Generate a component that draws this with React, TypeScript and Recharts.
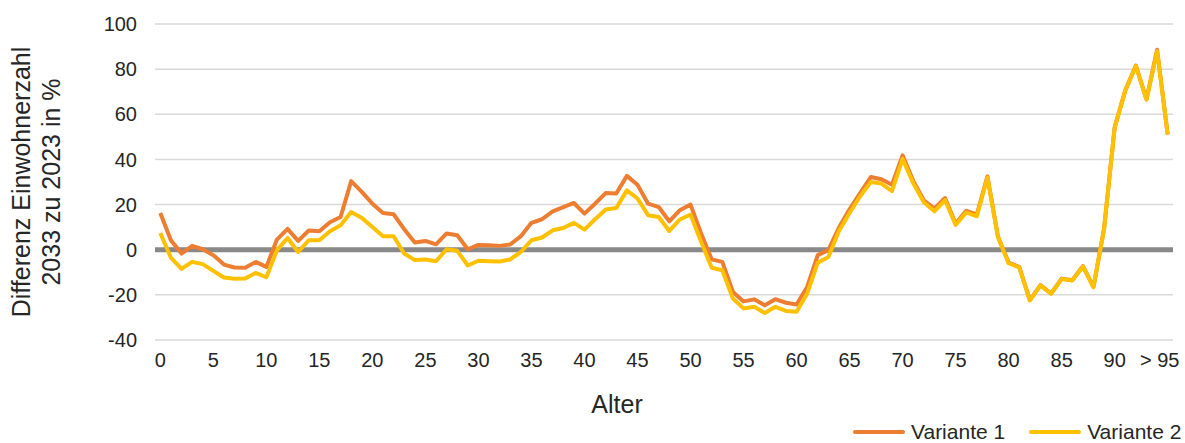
import { LineChart, Line, XAxis, YAxis, CartesianGrid, ReferenceLine } from 'recharts';

// Alter 0 … 95 (letzte Klasse "> 95")
const ages = Array.from({ length: 96 }, (_, i) => i);

const variante1 = [
  16.3, 4.2, -1.7, 1.7, 0.2, -2.4, -6.6, -7.9, -8, -5.4,
  -7.6, 4.5, 9.2, 3.9, 8.5, 8.2, 12.2, 14.5, 30.4, 25.6,
  20.4, 16.3, 15.7, 9.1, 3.2, 3.9, 2.4, 7.2, 6.4, 0.2,
  2.1, 2, 1.7, 2.3, 6, 11.9, 13.5, 17, 18.9, 20.7,
  16, 20.4, 25.1, 24.9, 32.7, 28.8, 20.4, 18.9, 12.6, 17.5,
  20, 7.2, -4.3, -5.4, -18.7, -22.9, -22, -24.6, -21.9, -23.5,
  -24.3, -16.5, -2.4, -0.2, 9.8, 17.9, 25.1, 32.2, 31.2, 28.8,
  41.8, 30.5, 21.9, 18.2, 22.9, 11.6, 17.2, 15.6, 32.5, 5.7,
  -5.7, -7.6, -22.3, -15.7, -19.4, -12.8, -13.5, -7.3, -16.5, 9.4,
  54.3, 70.6, 81.6, 66.6, 88.6, 51,
];

const variante2 = [
  7.4, -3.5, -8.5, -5.4, -6.4, -9.4, -12.3, -12.9, -12.8, -10.3,
  -12.2, -0.2, 5.2, -1, 4.2, 4.2, 8.2, 10.8, 16.7, 14.1,
  10.1, 6, 6, -1.7, -4.6, -4.3, -5.1, 0.2, -0.5, -7,
  -4.9, -5.1, -5.2, -4.3, -1, 4.2, 5.4, 8.6, 9.6, 11.9,
  8.9, 13.5, 17.8, 18.5, 26.3, 22.7, 15.3, 14.5, 8.3, 13.4,
  15.6, 3.5, -8, -9.1, -21.6, -26, -25.3, -28, -25.3, -27.1,
  -27.5, -19.4, -5.8, -3.2, 8.3, 16.3, 23.7, 30, 29.3, 26,
  40.3, 29.5, 21, 17, 22, 11, 16.5, 14.8, 32, 5.5,
  -6, -7.8, -22.5, -15.8, -19.5, -13, -13.6, -7.4, -16.6, 9.2,
  54, 70.4, 81.4, 66.5, 88, 51,
];

const xTicks = [0, 5, 10, 15, 20, 25, 30, 35, 40, 45, 50, 55, 60, 65, 70, 75, 80, 85, 90, 95];
const yTicks = [-40, -20, 0, 20, 40, 60, 80, 100];

const data = ages.map((age, i) => ({ age, v1: variante1[i], v2: variante2[i] }));

const FONT = '"Liberation Sans", Arial, sans-serif';
const TEXT = '#262626';
const ORANGE = '#ED7D31';
const YELLOW = '#FFC000';

const formatAge = (v: number) => (v === 95 ? '> 95' : String(v));

function AgeTick({ x, y, payload }: any) {
  const last = payload.value === 95;
  return (
    <text x={x} y={y} dy={15} dx={last ? -8 : 0} textAnchor="middle" fill={TEXT} fontSize={20} fontFamily={FONT}>
      {formatAge(payload.value)}
    </text>
  );
}

function YTitle({ viewBox }: any) {
  const cx = 36;
  const cy = viewBox.y + viewBox.height / 2;
  return (
    <text transform={`translate(${cx},${cy}) rotate(-90)`} textAnchor="middle" fill={TEXT} fontSize={25} fontFamily={FONT}>
      <tspan x={0} dy={-6}>Differenz Einwohnerzahl</tspan>
      <tspan x={0} dy={30}>2033 zu 2023 in %</tspan>
    </text>
  );
}

function LegendItem({ color, label }: { color: string; label: string }) {
  return (
    <div style={{ display: 'flex', alignItems: 'center', marginRight: 24, whiteSpace: 'nowrap' }}>
      <span style={{ width: 52, height: 4, background: color, borderRadius: 2, marginRight: 6, flexShrink: 0 }} />
      <span style={{ fontSize: 21, color: TEXT, fontFamily: FONT, lineHeight: '21px' }}>{label}</span>
    </div>
  );
}

export default function App() {
  return (
    <div style={{ position: 'absolute', left: 0, top: 0, width: 1185, height: 443, overflow: 'hidden', background: '#fff' }}>
      <LineChart width={1185} height={443} data={data} margin={{ top: 24, right: 12, left: 0, bottom: 0 }}>
        <CartesianGrid vertical={false} stroke="#D9D9D9" strokeWidth={1.5} />
        <XAxis
          dataKey="age"
          type="number"
          domain={[-0.5, 95.5]}
          ticks={xTicks}
          interval={0}
          axisLine={false}
          tickLine={false}
          tickSize={0}
          tickMargin={12}
          height={103}
          tick={<AgeTick />}
          label={{ value: 'Alter', position: 'insideBottom', offset: 30, dx: -47, fill: TEXT, fontSize: 25, fontFamily: FONT }}
        />
        <YAxis
          domain={[-40, 100]}
          ticks={yTicks}
          interval={0}
          axisLine={false}
          tickLine={false}
          tickSize={0}
          tickMargin={18}
          width={155}
          tick={{ fill: TEXT, fontSize: 20, fontFamily: FONT }}
          label={<YTitle />}
        />
        <ReferenceLine y={0} stroke="#898989" strokeWidth={5} />
        <Line
          type="linear"
          dataKey="v1"
          name="Variante 1"
          stroke={ORANGE}
          strokeWidth={4}
          dot={false}
          strokeLinejoin="round"
          isAnimationActive={false}
        />
        <Line
          type="linear"
          dataKey="v2"
          name="Variante 2"
          stroke={YELLOW}
          strokeWidth={4}
          dot={false}
          strokeLinejoin="round"
          isAnimationActive={false}
        />
      </LineChart>
      <div style={{ position: 'absolute', left: 853, top: 421, display: 'flex', whiteSpace: 'nowrap' }}>
        <LegendItem color={ORANGE} label="Variante 1" />
        <LegendItem color={YELLOW} label="Variante 2" />
      </div>
    </div>
  );
}
